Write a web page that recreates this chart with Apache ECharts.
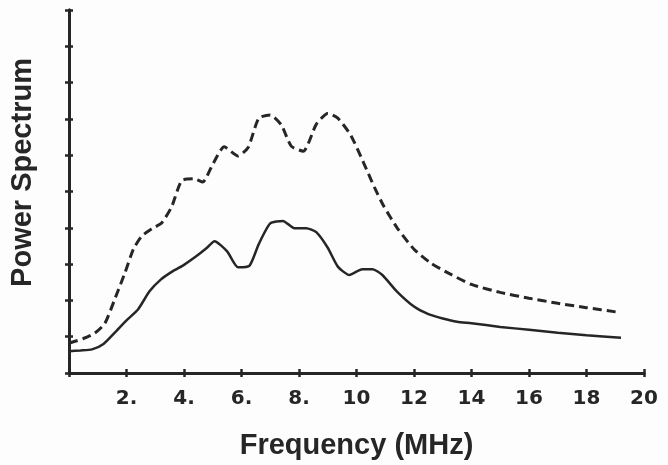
<!DOCTYPE html>
<html>
<head>
<meta charset="utf-8">
<script src="https://cdn.jsdelivr.net/npm/echarts@6/dist/echarts.min.js"></script>
<style>
html,body{margin:0;padding:0;background:#fdfdfd;}
#c{width:668px;height:465px;}
</style>
</head>
<body>
<div id="c"></div>
<script>
// Frequency (MHz) tick labels
var xTickValues = [0, 2, 4, 6, 8, 10, 12, 14, 16, 18, 20];
var xTickLabels = ['', '2.', '4.', '6.', '8.', '10', '12', '14', '16', '18', '20'];

// Solid curve: [frequency, power]
var solidFreq = [0, 0.4, 0.8, 1.2, 1.6, 2.0, 2.4, 2.8, 3.2, 3.6, 4.0, 4.4, 4.8, 5.06, 5.5, 5.88, 6.28, 6.6, 7.0, 7.44, 7.84, 8.25, 8.6, 9.0, 9.35, 9.75, 10.2, 10.56, 10.9, 11.4, 12.0, 12.5, 13.0, 13.5, 14.0, 15.0, 16.0, 17.0, 18.0, 19.2];
var solidPower = [0.60, 0.62, 0.65, 0.80, 1.12, 1.45, 1.75, 2.25, 2.58, 2.80, 2.98, 3.20, 3.45, 3.63, 3.35, 2.91, 2.96, 3.55, 4.12, 4.19, 3.99, 3.99, 3.88, 3.45, 2.93, 2.70, 2.86, 2.86, 2.70, 2.25, 1.83, 1.62, 1.50, 1.41, 1.37, 1.27, 1.19, 1.11, 1.04, 0.97];

// Dashed curve: [frequency, power]
var dashFreq = [0, 0.5, 0.9, 1.25, 1.6, 1.95, 2.24, 2.53, 2.9, 3.22, 3.57, 3.92, 4.35, 4.65, 5.0, 5.4, 5.88, 6.23, 6.6, 7.0, 7.38, 7.73, 8.15, 8.6, 9.0, 9.35, 9.8, 10.27, 10.62, 10.96, 11.43, 12.0, 12.6, 13.2, 14.0, 15.0, 16.0, 17.0, 18.0, 19.05];
var dashPower = [0.82, 0.95, 1.10, 1.37, 2.05, 2.77, 3.41, 3.77, 3.98, 4.13, 4.58, 5.30, 5.35, 5.26, 5.75, 6.23, 5.98, 6.21, 7.02, 7.11, 6.84, 6.25, 6.11, 6.85, 7.15, 7.02, 6.55, 5.75, 5.12, 4.58, 3.98, 3.41, 3.02, 2.75, 2.44, 2.22, 2.06, 1.92, 1.80, 1.68];

function pairs(xs, ys) { return xs.map(function (x, i) { return [x, ys[i]]; }); }

var ink = '#262626';
var chart = echarts.init(document.getElementById('c'), null, {renderer: 'canvas'});

function xAxisCfg(inside, main) {
  return {
    type: 'value', min: 0, max: 20, interval: 2, position: 'bottom',
    name: main ? 'Frequency (MHz)' : '', nameLocation: 'middle', nameGap: 58,
    nameTextStyle: {fontFamily: 'Liberation Sans', fontWeight: 'bold', fontSize: 29, color: ink},
    axisLine: {show: true, lineStyle: {color: ink, width: 3}},
    axisTick: {show: true, inside: inside, length: 4, lineStyle: {color: ink, width: 2.5}},
    axisLabel: {
      show: main, margin: 16, color: ink, fontFamily: 'DejaVu Sans', fontWeight: 'bold', fontSize: 20,
      formatter: function (v) { var i = xTickValues.indexOf(v); return i >= 0 ? xTickLabels[i] : ''; }
    },
    splitLine: {show: false}
  };
}
function yAxisCfg(inside, main) {
  return {
    type: 'value', min: 0, max: 10, interval: 1, position: 'left',
    name: main ? 'Power Spectrum' : '', nameLocation: 'middle', nameGap: 32, nameRotate: 90,
    nameTextStyle: {fontFamily: 'Liberation Sans', fontWeight: 'bold', fontSize: 29, color: ink, padding: [0, 0, 0, 38]},
    axisLine: {show: true, lineStyle: {color: ink, width: 3}},
    axisTick: {show: true, inside: inside, length: 4, lineStyle: {color: ink, width: 2.5}},
    axisLabel: {show: false},
    splitLine: {show: false}
  };
}

chart.setOption({
  backgroundColor: '#fdfdfd',
  animation: false,
  grid: {left: 67, top: 10, right: 24, bottom: 86, containLabel: false},
  xAxis: [xAxisCfg(false, true), xAxisCfg(true, false)],
  yAxis: [yAxisCfg(false, true), yAxisCfg(true, false)],
  series: [
    {
      type: 'line', data: pairs(solidFreq, solidPower), showSymbol: false, smooth: 0.2,
      lineStyle: {color: ink, width: 2.5}
    },
    {
      type: 'line', data: pairs(dashFreq, dashPower), showSymbol: false, smooth: 0.2,
      lineStyle: {color: ink, width: 3, type: [9, 5]}
    }
  ]
});
</script>
</body>
</html>
